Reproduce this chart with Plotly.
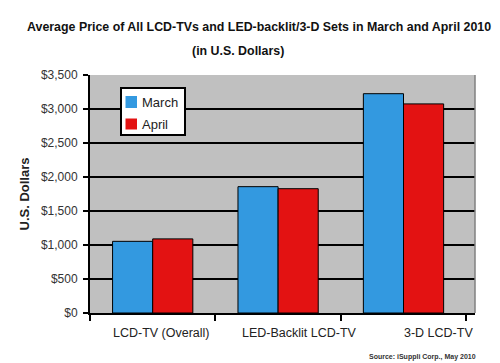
import plotly.graph_objects as go

categories = ["LCD-TV (Overall)", "LED-Backlit LCD-TV", "3-D LCD-TV"]
march = [1054, 1858, 3225]
april = [1090, 1828, 3075]
y_ticks = [0, 500, 1000, 1500, 2000, 2500, 3000, 3500]
y_tick_labels = ["$0", "$500", "$1,000", "$1,500", "$2,000", "$2,500", "$3,000", "$3,500"]
series_names = ["March", "April"]
series_colors = ["#3399E0", "#E31212"]

fig = go.Figure()
for name, vals, col in zip(series_names, [march, april], series_colors):
    fig.add_trace(go.Bar(x=categories, y=vals, name=name,
                         marker=dict(color=col, line=dict(color="black", width=1))))

font = "Liberation Sans, Arial, sans-serif"
L, R, T, B = 82, 467, 67, 305
def px(x): return (x - L) / (R - L)
def py(y): return (B - y) / (B - T)

fig.update_layout(
    width=500, height=363,
    margin=dict(l=L, r=500 - R, t=T, b=363 - B),
    paper_bgcolor="white", plot_bgcolor="#C0C0C0",
    barmode="group", bargap=0.36, bargroupgap=0,
    font=dict(family=font, size=12, color="#222"),
    showlegend=False,
)
fig.update_xaxes(showticklabels=False, showline=True, linecolor="black", linewidth=2,
                 ticks="outside", tickson="boundaries", ticklen=6, tickcolor="black",
                 tickwidth=2, showgrid=False)
fig.update_yaxes(range=[0, 3500], tickvals=y_ticks, ticktext=y_tick_labels,
                 showline=True, linecolor="black", linewidth=2,
                 ticks="outside", ticklen=5, tickcolor="black", tickwidth=2,
                 showgrid=False, zeroline=False, ticklabelstandoff=3,
                 tickfont=dict(size=12, color="#333"),
                 title=dict(text="<b>U.S. Dollars</b>", font=dict(size=13, color="#222"), standoff=8))

# horizontal gridlines (inner ticks only)
for v in y_ticks[1:-1]:
    fig.add_shape(type="line", xref="paper", yref="y", x0=0, x1=1, y0=v, y1=v,
                  line=dict(color="black", width=2), layer="below")

# right border of plot area
fig.add_shape(type="line", xref="paper", yref="paper", x0=1, x1=1, y0=0, y1=1,
              line=dict(color="#808080", width=1.5))

# legend box
fig.add_shape(type="rect", xref="paper", yref="paper", x0=px(113), x1=px(177), y0=py(127), y1=py(80),
              fillcolor="white", line=dict(color="black", width=2))
sq_y = [(88, 100), (110.5, 121.5)]
for name, col, (y0, y1) in zip(series_names, series_colors, sq_y):
    fig.add_shape(type="rect", xref="paper", yref="paper", x0=px(117.5), x1=px(129), y0=py(y1), y1=py(y0),
                  fillcolor=col, line=dict(width=0))
    fig.add_annotation(xref="paper", yref="paper", x=px(132), y=py((y0 + y1) / 2), xanchor="left",
                       yanchor="middle", text=name, showarrow=False, font=dict(size=13, color="#222"))

shifts = [9, 21, 35]
for c, s in zip(categories, shifts):
    fig.add_annotation(x=c, y=0, xref="x", yref="paper", yshift=-20, xshift=s,
                       text=c, showarrow=False, font=dict(size=12.5, color="#222"),
                       yanchor="middle")

fig.add_annotation(xref="paper", yref="paper", x=px(251), y=py(19), yanchor="middle",
                   text="<b>Average Price of All LCD-TVs and LED-backlit/3-D Sets in March and April 2010</b>",
                   showarrow=False, font=dict(size=12.4, color="#111"))
fig.add_annotation(xref="paper", yref="paper", x=px(230), y=py(43), yanchor="middle",
                   text="<b>(in U.S. Dollars)</b>", showarrow=False, font=dict(size=12.4, color="#111"))
fig.add_annotation(xref="paper", yref="paper", x=px(470), y=py(349), xanchor="right", yanchor="middle",
                   text="<b>Source: iSuppli Corp., May 2010</b>", showarrow=False, font=dict(size=7, color="#333"))

fig.write_html("out.html")
